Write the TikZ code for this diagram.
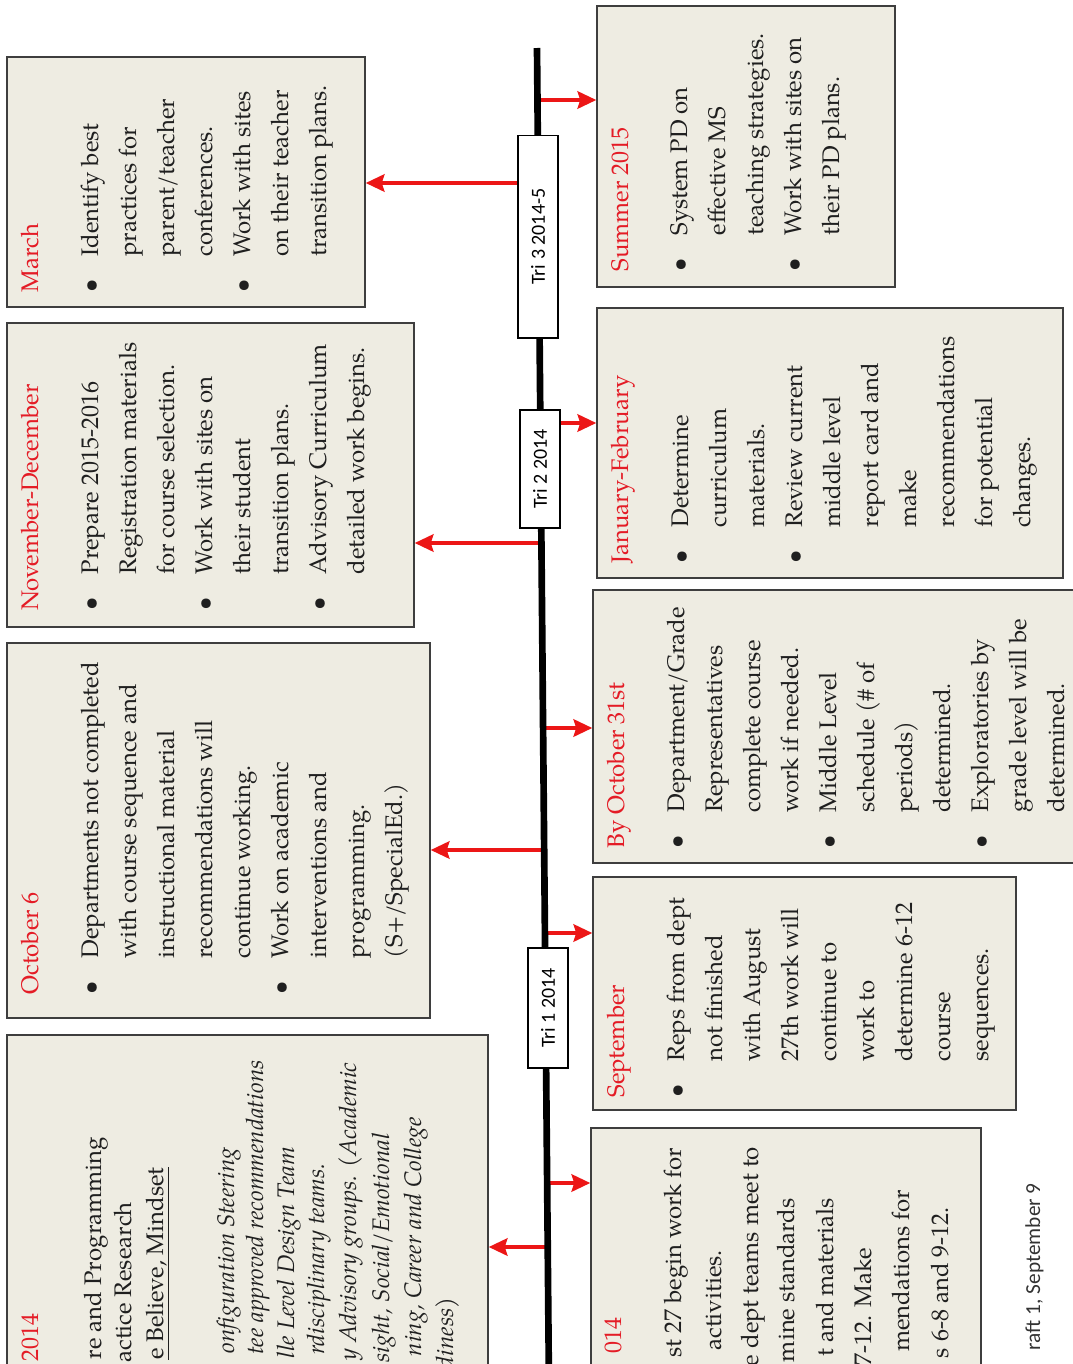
\documentclass[tikz,border=0pt]{standalone}
\usepackage{fontspec}
\setmainfont{TeX Gyre Pagella}
\newfontfamily\trifont{Carlito}
\usetikzlibrary{arrows.meta,fit}

\definecolor{titlered}{RGB}{228,28,38}
\definecolor{arrowred}{RGB}{236,22,22}
\definecolor{boxfill}{RGB}{238,236,226}
\definecolor{boxline}{RGB}{62,62,62}

% bullet and hanging indent
\newcommand\bl{\makebox[27pt][l]{\textbullet}}
\newcommand\hi{\hspace*{27pt}}

\tikzset{
  infobox/.style={draw=boxline, fill=boxfill, line width=1.1pt, inner sep=0pt},
  infotext/.style={rotate=90, anchor=north west, inner sep=0pt, align=left,
    text=black!88, font=\fontsize{18}{28.5}\selectfont},
  partline/.style={rotate=90, anchor=base east, inner sep=0pt,
    text=black!88, font=\fontsize{18}{23}\selectfont},
  tribox/.style={draw=black, fill=white, line width=1pt, rotate=90,
    minimum height=30pt, inner sep=0pt, font=\trifont\fontsize{15}{15}\selectfont},
  arr/.style={draw=arrowred, line width=2.8pt, -{Stealth[length=14pt,width=13pt,inset=2pt]}}
}

\begin{document}
\begin{tikzpicture}[x=0.75pt, y=-0.75pt]
  \useasboundingbox (0,0) rectangle (1073,1364);
  \clip (0,0) rectangle (1073,1364);

  % left column
  \node[infobox, fit={(7,57) (365,307)}] (march) {};
  \node[infobox, fit={(7,323) (414,627)}] (novdec) {};
  \node[infobox, fit={(7,643) (430,1018)}] (oct6) {};
  \node[infobox, fit={(7,1035) (488,1400)}] (aug) {};

  % right column
  \node[infobox, fit={(597,6) (895,287)}] (summer) {};
  \node[infobox, fit={(597,308) (1063,578)}] (janfeb) {};
  \node[infobox, fit={(593,590) (1090,863)}] (oct31) {};
  \node[infobox, fit={(593,877) (1016,1110)}] (sept) {};
  \node[infobox, fit={(591,1128) (981,1400)}] (augr) {};

  % texts
  \node[infotext] (marchtext) at ([shift={(15,-15)}]march.south west) {%
    \textcolor{titlered}{March}\\[16pt]
    \bl Identify best\\
    \hi practices for\\
    \hi parent/teacher\\
    \hi conferences.\\
    \bl Work with sites\\
    \hi on their teacher\\
    \hi transition plans.};

  \node[infotext] (novdectext) at ([shift={(15,-17)}]novdec.south west) {%
    \textcolor{titlered}{November-December}\\[16pt]
    \bl Prepare 2015-2016\\
    \hi Registration materials\\
    \hi for course selection.\\
    \bl Work with sites on\\
    \hi their student\\
    \hi transition plans.\\
    \bl Advisory Curriculum\\
    \hi detailed work begins.};

  \node[infotext] (oct6text) at ([shift={(15,-24)}]oct6.south west) {%
    \textcolor{titlered}{October 6}\\[16pt]
    \bl Departments not completed\\
    \hi with course sequence and\\
    \hi instructional material\\
    \hi recommendations will\\
    \hi continue working.\\
    \bl Work on academic\\
    \hi interventions and\\
    \hi programming.\\
    \hi (S+/SpecialEd.)};

  \node[infotext] (summertext) at ([shift={(15,-16)}]summer.south west) {%
    \textcolor{titlered}{Summer 2015}\\[16pt]
    \bl System PD on\\
    \hi effective MS\\
    \hi teaching strategies.\\
    \bl Work with sites on\\
    \hi their PD plans.};

  \node[infotext] (janfebtext) at ([shift={(15,-15)}]janfeb.south west) {%
    \textcolor{titlered}{January-February}\\[16pt]
    \bl Determine\\
    \hi curriculum\\
    \hi materials.\\
    \bl Review current\\
    \hi middle level\\
    \hi report card and\\
    \hi make\\
    \hi recommendations\\
    \hi for potential\\
    \hi changes.};

  \node[infotext] (oct31text) at ([shift={(15,-15)}]oct31.south west) {%
    \textcolor{titlered}{By October 31st}\\[16pt]
    \bl Department/Grade\\
    \hi Representatives\\
    \hi complete course\\
    \hi work if needed.\\
    \bl Middle Level\\
    \hi schedule (\# of\\
    \hi periods)\\
    \hi determined.\\
    \bl Exploratories by\\
    \hi grade level will be\\
    \hi determined.};

  \node[infotext] (septtext) at ([shift={(15,-13)}]sept.south west) {%
    \textcolor{titlered}{September}\\[16pt]
    \bl Reps from dept\\
    \hi not finished\\
    \hi with August\\
    \hi 27th work will\\
    \hi continue to\\
    \hi work to\\
    \hi determine 6-12\\
    \hi course\\
    \hi sequences.};

  % cut-off boxes at the bottom
  \foreach \x/\e/\t [count=\i] in {32/1313/{\color{titlered}2014},
      95/1137/{re and Programming}, 125/1202/{actice Research},
      157/1167/{\underline{e Believe, Mindset}},
      228/1147/{\itshape onfiguration Steering},
      257/1060/{\itshape tee approved recommendations},
      288/1147/{\itshape lle Level Design Team},
      318/1163/{\itshape rdisciplinary teams.},
      350/1062/{\itshape y Advisory groups. (Academic},
      383/1133/{\itshape sight, Social/Emotional},
      415/1117/{\itshape ning, Career and College},
      447/1297/{\itshape diness)}}
    \node[partline] (augl\i) at (\x+6,\e) {\t};

  \foreach \x/\e/\t [count=\i] in {615/1317/{\color{titlered}014},
      675/1148/{st 27 begin work for}, 715/1250/{activities.},
      752/1147/{e dept teams meet to}, 788/1198/{mine standards},
      827/1198/{t and materials}, 865/1248/{7-12. Make},
      903/1190/{mendations for}, 942/1207/{s 6-8 and 9-12.}}
    \node[partline] (augr\i) at (\x+6,\e) {\t};

  \node[rotate=90, anchor=base east, inner sep=0pt, text=black!80,
    font=\trifont\fontsize{16}{16}\selectfont] (draft) at (1040,1183) {raft 1, September 9};

  % points on the time line
  \coordinate (pSum) at (537.4,100);
  \coordinate (pMar) at (538.1,183);
  \coordinate (pJan) at (540.1,423);
  \coordinate (pNov) at (541.1,543);
  \coordinate (pO31) at (542.7,728);
  \coordinate (pOc6) at (543.7,850);
  \coordinate (pSep) at (544.4,933);
  \coordinate (pAugR) at (546.5,1183);
  \coordinate (pAugL) at (547.0,1247);

  \draw[arr] (pSum) -- (pSum -| summer.west);
  \draw[arr] (pMar) -- (pMar -| march.east);
  \draw[arr] (pJan) -- (pJan -| janfeb.west);
  \draw[arr] (pNov) -- (pNov -| novdec.east);
  \draw[arr] (pO31) -- (pO31 -| oct31.west);
  \draw[arr] (pOc6) -- (pOc6 -| oct6.east);
  \draw[arr] (pSep) -- (pSep -| sept.west);
  \draw[arr] (pAugR) -- (pAugR -| augr.west);
  \draw[arr] (pAugL) -- (pAugL -| aug.east);

  % time line
  \coordinate (ltop) at (537,48);
  \coordinate (lbot) at (549,1390);
  \draw[line width=5pt] (ltop) -- (lbot);

  \node[tribox, minimum width=152pt] (tri3) at (538,236.5) {Tri 3 2014-5};
  \node[tribox, minimum width=88.5pt] (tri2) at (540,469) {Tri 2 2014};
  \node[tribox, minimum width=90pt] (tri1) at (548,1008) {Tri 1 2014};
\end{tikzpicture}
\end{document}
